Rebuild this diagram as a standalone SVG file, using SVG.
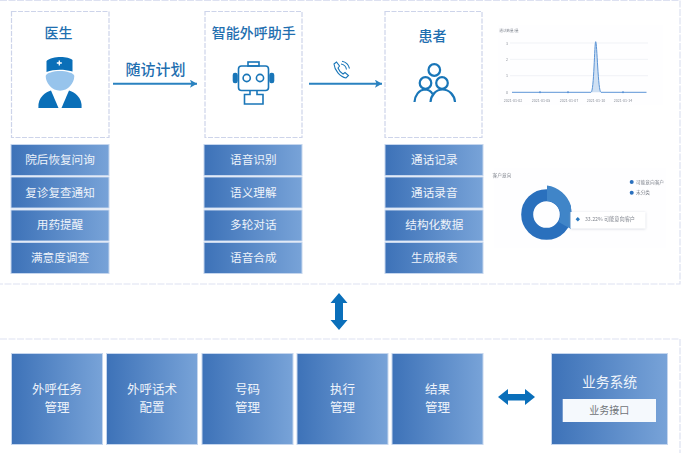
<svg xmlns="http://www.w3.org/2000/svg" width="683" height="453" viewBox="0 0 683 453">
<style>
text{font-family:"Noto Sans CJK SC","Liberation Sans",sans-serif;text-anchor:middle}
.panel{fill:#fff;stroke:#cdd4ea;stroke-width:1.2;stroke-dasharray:5 1.5}
.frame{fill:none;stroke:#dde1f1;stroke-width:1.2;stroke-dasharray:7 1.5}
.box{fill:url(#g);stroke:#c5d6ee;stroke-width:1}
.t{fill:#1f6fb0;font-size:14px;font-weight:500}
.w{fill:#eef3fa;font-size:11.600px}
.b{fill:#eef3fa;font-size:12.500px}
.line{stroke:#2a82c0;stroke-width:2;fill:none;marker-end:url(#ah)}
.ic{fill:none;stroke:#1976b8;stroke-width:1.6}
.tiny{fill:#8a8f98;font-size:3.600px}
.leg{fill:#80858e;font-size:4.700px}
</style>
<defs>
<linearGradient id="g" x1="0" x2="1" y1="0" y2="0"><stop offset="0" stop-color="#3d72b8"/><stop offset="1" stop-color="#78a3d8"/></linearGradient>
<marker id="ah" markerUnits="userSpaceOnUse" markerWidth="8" markerHeight="8" refX="7" refY="4" orient="auto"><path d="M0 0L7 4L0 8L1.500 4Z" fill="#2a82c0"/></marker>
<filter id="b" x="-5%" y="-5%" width="110%" height="110%"><feGaussianBlur stdDeviation="0.4"/></filter>
<filter id="sh" x="-10%" y="-30%" width="120%" height="170%"><feDropShadow dx="0" dy="0.500" stdDeviation="1" flood-color="#9aa3b5" flood-opacity="0.450"/></filter>
</defs>
<rect width="683" height="453" fill="#fff"/>
<g id="frames">
<path class="frame" d="M0 0.500H680V284H0"/>
<path class="frame" d="M0 339H680V453"/>
</g>
<g id="connectors">
<path class="line" d="M113 83.700H197"/>
<path class="line" d="M309 83.700H382"/>
<path id="updown" d="M339 293L347.500 303H343V320H347.500L339 330L330.500 320H335V303H330.500Z" fill="#0a6fba"/>
<path id="leftright" d="M498 397L508 389V394H525V389L535 397L525 405V400.500H508V405Z" fill="#0a6fba"/>
</g>
<text x="155.500" y="74.500" class="t" style="font-size:15px">随访计划</text>
<g id="phone" class="ic" transform="translate(333 60.500)" style="stroke-width:1.100">
<path d="M1 3.500L3.500 1.500L6.500 5.500L5 7.500C6 10 8 12.500 10 13.500L12 12L15.500 15L13 17.500C7 16.500 1.500 9.500 1 3.500Z"/>
<path d="M8 3.500C11 4 13 6 13.500 9M9 0.800C13 1.500 15.500 4 16.500 8"/>
</g>
<g id="doctor">
<rect class="panel" x="11.500" y="11.500" width="97.500" height="126"/>
<text x="58.500" y="38" class="t">医生</text>
<path d="M46.500 61C52 56 68 56 72.500 60V71.500C64 69 54 69 46.500 72Z" fill="#0a6fb8"/>
<path d="M59.300 60.500V65.500M56.800 63H61.800" stroke="#fff" stroke-width="1.300"/>
<path d="M45.700 76C45.700 73 54 71 60 71C66 71 74.300 73 74.300 76C74.300 83 68 90.700 60 90.700C52 90.700 45.700 83 45.700 76Z" fill="#97c4ec"/>
<path d="M38.400 108C37.500 97 46 92 51 90.500L58.500 108Z" fill="#0a6fb8"/>
<path d="M81.600 108C82.500 97 74 92 69 90.500L61.500 108Z" fill="#0a6fb8"/>
</g>
<g id="robot" class="ic">
<rect class="panel" x="205" y="11.500" width="97" height="126"/>
<text x="253.800" y="38" class="t" stroke="none">智能外呼助手</text>
<rect x="238.500" y="66" width="30" height="24.500" rx="3"/>
<rect x="248" y="62" width="11" height="4"/>
<circle cx="246.700" cy="78" r="3.600"/><circle cx="260" cy="78" r="3.600"/>
<rect x="233.500" y="73.500" width="3.500" height="9" rx="1.500" fill="#1976b8"/>
<rect x="270" y="73.500" width="3.500" height="9" rx="1.500" fill="#1976b8"/>
<path d="M250 90.500V94.500H244.500V104H263V94.500H257V90.500"/>
</g>
<g id="patient" class="ic" style="stroke-width:2.200">
<rect class="panel" x="385" y="11.500" width="97" height="126" style="stroke-width:1.200"/>
<text x="432.500" y="41" class="t" stroke="none">患者</text>
<circle cx="434.300" cy="70" r="5.800"/>
<circle cx="425.500" cy="83" r="5.800"/>
<circle cx="442" cy="83" r="5.800"/>
<path d="M414.500 102C415 95 419 90 424.500 89.500C428 89.500 431 91 432.500 94"/>
<path d="M430.500 102C431 95 436 89.500 442.500 89.500C449 89.500 454.500 95 455 102"/>
</g>
<g id="doctor-list">
<rect class="box" x="11" y="144.500" width="98" height="31"/><text class="w" x="60" y="164">院后恢复问询</text>
<rect class="box" x="11" y="177" width="98" height="31"/><text class="w" x="60" y="196.700">复诊复查通知</text>
<rect class="box" x="11" y="210" width="98" height="31"/><text class="w" x="60" y="229.300">用药提醒</text>
<rect class="box" x="11" y="242.500" width="98" height="31"/><text class="w" x="60" y="261.500">满意度调查</text>
</g>
<g id="robot-list">
<rect class="box" x="204" y="144.500" width="98" height="31"/><text class="w" x="253.300" y="164">语音识别</text>
<rect class="box" x="204" y="177" width="98" height="31"/><text class="w" x="253.300" y="196.700">语义理解</text>
<rect class="box" x="204" y="210" width="98" height="31"/><text class="w" x="253.300" y="229.300">多轮对话</text>
<rect class="box" x="204" y="242.500" width="98" height="31"/><text class="w" x="253.300" y="261.500">语音合成</text>
</g>
<g id="patient-list">
<rect class="box" x="385" y="144.500" width="98" height="31"/><text class="w" x="434.300" y="164">通话记录</text>
<rect class="box" x="385" y="177" width="98" height="31"/><text class="w" x="434.300" y="196.700">通话录音</text>
<rect class="box" x="385" y="210" width="98" height="31"/><text class="w" x="434.300" y="229.300">结构化数据</text>
<rect class="box" x="385" y="242.500" width="98" height="31"/><text class="w" x="434.300" y="261.500">生成报表</text>
</g>
<g id="line-chart" filter="url(#b)">
<rect x="498" y="25" width="165" height="80" fill="#fefeff"/>
<text class="tiny" x="509" y="32">通话数量/量</text>
<path d="M510 43H648M510 59.300H648M510 75.700H648" stroke="#e8ebf0" stroke-width=".6"/>
<path d="M591 92.300C594 92.300 594.500 41.700 595.700 41.700C597 41.700 598 92.300 601 92.300Z" fill="#cfe0f3"/>
<path d="M512 92.300H591C594 92.300 594.500 41.700 595.700 41.700C597 41.700 598 92.300 601 92.300H646.500" fill="none" stroke="#5b94d6" stroke-width="1"/>
<g fill="#5b94d6"><circle cx="540" cy="92.300" r="1"/><circle cx="568" cy="92.300" r="1"/><circle cx="623" cy="92.300" r="1"/></g>
<g><text class="tiny" x="507" y="44.500">3</text><text class="tiny" x="507" y="61">2</text><text class="tiny" x="507" y="77">1</text><text class="tiny" x="507" y="93.500">0</text>
<text class="tiny" x="513" y="101.500">2021-01-02</text><text class="tiny" x="541" y="101.500">2021-01-05</text><text class="tiny" x="569" y="101.500">2021-01-07</text><text class="tiny" x="596" y="101.500">2021-01-10</text><text class="tiny" x="623" y="101.500">2021-01-14</text></g>
</g>
<g id="donut-chart" filter="url(#b)">
<rect x="494" y="168" width="172" height="80" fill="#fefeff"/>
<text class="leg" x="502" y="176.500">客户意向</text>
<circle cx="546.500" cy="214.500" r="19.300" fill="none" stroke="#2a6fbd" stroke-width="12"/>
<path d="M547 185.500A29 29 0 0 1 571 206V229L558.500 222A14 14 0 0 0 547 201Z" fill="#4085c8"/>
<rect x="570.500" y="212" width="75" height="16.500" fill="#fff" filter="url(#sh)"/>
<path d="M577.800 217L580 219.200L577.800 221.400L575.600 219.200Z" fill="#2a7ac0"/>
<text x="610" y="221" class="leg" style="font-size:5.200px">33.22% 可能意向客户</text>
<circle cx="631.700" cy="182" r="2" fill="#2a6fbd"/><text class="leg" x="650" y="183.700">可能意向客户</text>
<circle cx="631.700" cy="192.700" r="2" fill="#2a6fbd"/><text class="leg" x="643" y="194.400">未分类</text>
</g>
<g id="task"><rect class="box" x="11.500" y="353.500" width="91" height="91"/><text class="b" x="57" y="394">外呼任务</text><text class="b" x="57" y="412">管理</text></g>
<g id="script"><rect class="box" x="106.500" y="353.500" width="91" height="91"/><text class="b" x="152" y="394">外呼话术</text><text class="b" x="152" y="412">配置</text></g>
<g id="number"><rect class="box" x="202" y="353.500" width="91" height="91"/><text class="b" x="247.500" y="394">号码</text><text class="b" x="247.500" y="412">管理</text></g>
<g id="exec"><rect class="box" x="297" y="353.500" width="91" height="91"/><text class="b" x="342.500" y="394">执行</text><text class="b" x="342.500" y="412">管理</text></g>
<g id="result"><rect class="box" x="392" y="353.500" width="91" height="91"/><text class="b" x="437.500" y="394">结果</text><text class="b" x="437.500" y="412">管理</text></g>
<g id="system"><rect class="box" x="551.500" y="353.500" width="116" height="91"/><text x="609.500" y="387" style="fill:#eef3fa;font-size:13.800px">业务系统</text>
<rect x="562.700" y="399" width="93.300" height="23" fill="#f5f9fd"/><text x="609.300" y="414" style="fill:#6f7378;font-size:10px">业务接口</text></g>
</svg>
